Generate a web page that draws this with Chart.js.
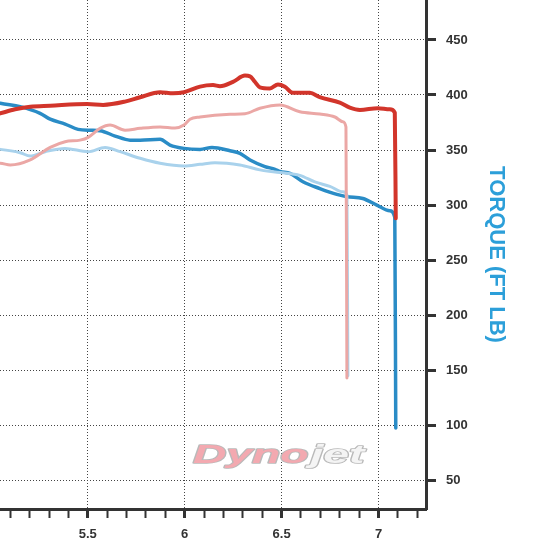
<!DOCTYPE html>
<html>
<head>
<meta charset="utf-8">
<script src="https://cdn.jsdelivr.net/npm/chart.js@4.4.1/dist/chart.umd.min.js"></script>
<style>
  html, body { margin: 0; padding: 0; background: #fff; }
  canvas { display: block; }
</style>
</head>
<body>
<canvas id="dyno" width="537" height="559"></canvas>
<script>
// datos (rpm x1000 / torque)
const redRpm = [5.000, 5.048, 5.125, 5.203, 5.306, 5.496, 5.579, 5.692, 5.770, 5.873, 5.940, 5.996, 6.079, 6.146, 6.182, 6.249, 6.311, 6.337, 6.362, 6.388, 6.440, 6.481, 6.517, 6.558, 6.646, 6.697, 6.800, 6.852, 6.904, 6.996, 7.058, 7.084, 7.089];
const redTorque = [381, 383.3, 387, 389.4, 390.3, 391.8, 391, 394, 398, 402.5, 401.5, 402.5, 407.6, 409, 408, 412, 417.6, 417, 412, 407, 406, 409.5, 407.5, 402, 402, 398, 393, 388.5, 386.4, 388, 387, 384, 288];

const pinkRpm = [5.000, 5.048, 5.100, 5.203, 5.306, 5.383, 5.460, 5.502, 5.563, 5.615, 5.692, 5.770, 5.873, 5.950, 5.996, 6.027, 6.079, 6.234, 6.311, 6.388, 6.491, 6.594, 6.697, 6.775, 6.816, 6.832, 6.837];
const pinkTorque = [338, 338, 336.4, 341, 352.4, 357.6, 359, 361.5, 369.7, 372.7, 368, 369.7, 371, 370, 372.7, 378, 380, 382.5, 383, 388, 391, 384.8, 382.7, 380, 375.7, 371, 143];

const blueRpm = [5.000, 5.048, 5.151, 5.254, 5.306, 5.383, 5.450, 5.512, 5.563, 5.641, 5.718, 5.770, 5.873, 5.924, 5.996, 6.079, 6.141, 6.234, 6.285, 6.337, 6.414, 6.466, 6.491, 6.543, 6.610, 6.697, 6.785, 6.837, 6.919, 6.991, 7.058, 7.084, 7.089];
const blueTorque = [395, 392.5, 389.4, 383.3, 378, 373.6, 368.8, 368, 367.6, 362.7, 359, 359, 359.7, 354.5, 351.5, 350.6, 352.4, 349.4, 347, 341, 335, 332.5, 330.5, 328.8, 321.2, 315, 309.7, 307.6, 306, 300, 294.8, 289, 97.5];

const lightBlueRpm = [5.000, 5.048, 5.151, 5.203, 5.280, 5.383, 5.502, 5.589, 5.667, 5.770, 5.873, 5.996, 6.079, 6.156, 6.285, 6.388, 6.491, 6.594, 6.672, 6.749, 6.816, 6.837, 6.842];
const lightBlueTorque = [351, 350.6, 347.6, 344.5, 348.5, 351.5, 348.5, 352.4, 348.5, 342.5, 338, 335.5, 337, 338.5, 336.4, 332, 329.5, 327, 321, 317, 312, 309, 145];

// ejes
const xTicks = [5.1, 5.2, 5.3, 5.4, 5.5, 5.6, 5.7, 5.8, 5.9, 6.0, 6.1, 6.2, 6.3, 6.4, 6.5, 6.6, 6.7, 6.8, 6.9, 7.0, 7.1, 7.2];
const xMajor = [5.5, 6, 6.5, 7];
const xLabels = ['5.5', '6', '6.5', '7'];
const yTicks = [50, 100, 150, 200, 250, 300, 350, 400, 450];
const yTitle = 'TORQUE (FT LB)';

function majorIndex(v) {
    return xMajor.findIndex(m => Math.abs(m - v) < 1e-6);
}

function puntos(rpm, tq) {
    return rpm.map((x, i) => ({ x: x, y: tq[i] }));
}

function serie(rpm, tq, color, ancho) {
    return {
        data: puntos(rpm, tq),
        borderColor: color,
        borderWidth: ancho,
        pointRadius: 0,
        cubicInterpolationMode: 'monotone',
        borderCapStyle: 'round',
        borderJoinStyle: 'round',
        fill: false
    };
}

// titulo vertical y marca de agua
const extras = {
    id: 'extras',
    beforeDatasetsDraw(chart) {
        const ctx = chart.ctx;
        const area = chart.chartArea;
        ctx.save();
        ctx.translate(area.left + 193, area.top + 463);
        ctx.scale(1.85, 1);
        ctx.font = 'bold italic 25px "Liberation Sans"';
        ctx.textBaseline = 'alphabetic';
        ctx.lineJoin = 'round';
        ctx.lineWidth = 1.6;
        ctx.strokeStyle = '#b9b9b9';
        ctx.fillStyle = '#f3a9b0';
        ctx.strokeText('Dyno', 0, 0);
        ctx.fillText('Dyno', 0, 0);
        const w = ctx.measureText('Dyno').width;
        ctx.fillStyle = '#f4f4f4';
        ctx.strokeText('jet', w + 1, 0);
        ctx.fillText('jet', w + 1, 0);
        ctx.restore();
    },
    afterDraw(chart) {
        const ctx = chart.ctx;
        const area = chart.chartArea;
        ctx.save();
        ctx.translate(area.right + 70, (area.top + area.bottom) / 2);
        ctx.rotate(Math.PI / 2);
        ctx.font = 'bold 22px "Liberation Sans"';
        ctx.fillStyle = '#2c9fd9';
        ctx.textAlign = 'center';
        ctx.textBaseline = 'middle';
        ctx.fillText(yTitle, 0, 0);
        ctx.restore();
    }
};

document.addEventListener('DOMContentLoaded', function() {
    new Chart(document.getElementById('dyno'), {
        type: 'line',
        data: {
            datasets: [
                serie(pinkRpm, pinkTorque, '#eba7a5', 3),
                serie(lightBlueRpm, lightBlueTorque, '#a9d2ec', 3),
                serie(redRpm, redTorque, '#d2352b', 4),
                serie(blueRpm, blueTorque, '#2a8cc6', 3.5)
            ]
        },
        options: {
            responsive: false,
            animation: false,
            devicePixelRatio: 1,
            layout: { padding: 0 },
            plugins: {
                legend: { display: false },
                tooltip: { enabled: false }
            },
            scales: {
                x: {
                    type: 'linear',
                    position: 'bottom',
                    min: 5.047,
                    max: 7.245,
                    afterBuildTicks: s => { s.ticks = xTicks.map(v => ({ value: v })); },
                    afterFit: s => { s.height = 50; s.paddingLeft = 0; s.paddingRight = 0; },
                    border: { color: '#333', width: 3, dash: [1, 2] },
                    grid: {
                        color: c => majorIndex(c.tick.value) >= 0 ? '#444' : 'rgba(0,0,0,0)',
                        lineWidth: 1,
                        tickColor: '#333',
                        tickWidth: c => majorIndex(c.tick.value) >= 0 ? 3 : 2,
                        tickLength: 9,
                        tickBorderDash: []
                    },
                    ticks: {
                        autoSkip: false,
                        maxRotation: 0,
                        padding: 9,
                        color: '#333',
                        font: { family: '"Liberation Sans"', size: 13, weight: 'bold' },
                        callback: v => {
                            const i = majorIndex(v);
                            return i >= 0 ? xLabels[i] : '';
                        }
                    }
                },
                y: {
                    type: 'linear',
                    position: 'right',
                    min: 23.9,
                    max: 486.3,
                    afterBuildTicks: s => { s.ticks = yTicks.map(v => ({ value: v })); },
                    afterFit: s => { s.width = 111; s.paddingTop = 0; s.paddingBottom = 0; },
                    border: { color: '#333', width: 3, dash: [1, 2] },
                    grid: {
                        color: '#444',
                        lineWidth: 1,
                        tickColor: '#333',
                        tickWidth: 3,
                        tickLength: 10,
                        tickBorderDash: []
                    },
                    ticks: {
                        padding: 10,
                        color: '#333',
                        font: { family: '"Liberation Sans"', size: 13, weight: 'bold' }
                    }
                }
            }
        },
        plugins: [extras]
    });
});
</script>
</body>
</html>
